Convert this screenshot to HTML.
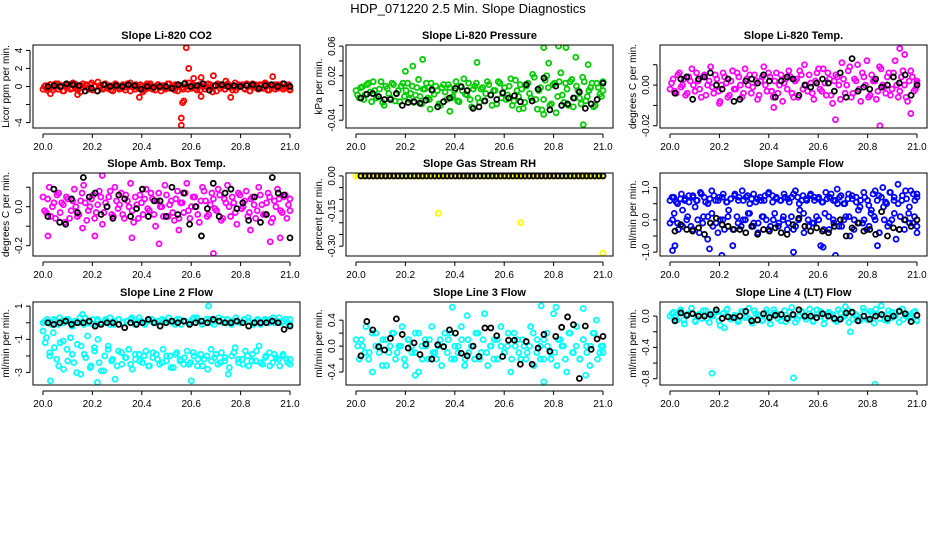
<!DOCTYPE html>
<html><head><meta charset="utf-8">
<style>
body{margin:0;background:#fff;}
svg{display:block;font-family:"Liberation Sans",sans-serif;}
</style></head>
<body>
<svg id="chart" width="936" height="540" viewBox="0 0 936 540">
<rect width="936" height="540" fill="#fff"/>
<text x="468" y="13" font-size="13" text-anchor="middle">HDP_071220  2.5 Min. Slope Diagnostics</text>
</svg>
<script>
// ---- data ----
const xTicks = [20.0, 20.2, 20.4, 20.6, 20.8, 21.0];
const xTickLabels = ["20.0","20.2","20.4","20.6","20.8","21.0"];

const p1Band = [-0.3,0.1,-0.2,0.2,-0.4,0.0,0.3,-0.1,-0.5,0.2,0.1,-0.3,0.4,-0.2,0.0,-0.6,0.3,0.1,-0.2,0.2,-0.4,0.0,0.5,-0.1,-0.3,0.2,-0.2,0.1,-0.5,0.3,0.0,-0.2,0.2,-0.4,0.1,0.4,-0.1,-0.3,0.0,0.2,-0.6,0.1,-0.2,0.3,0.0,-0.4,0.2,-0.1,0.1,-0.3,0.3,-0.2,0.0,0.2,-0.5,0.1,-0.1,0.4,-0.3,0.0,0.2,-0.2,0.1,-0.4,0.3,0.0,-0.1,0.2,-0.6,0.1,0.3,-0.2,0.0,-0.3,0.2,0.1,-0.4,0.4,-0.1,0.0,0.2,-0.3,0.1,-0.5,0.3,-0.1,0.0,0.2,-0.2,0.4,-0.4,0.1,0.0,-0.3,0.2,-0.1,0.3,-0.2,0.0,-0.3];
const p1Band2 = [0.0,-0.4,0.2,-0.1,0.3,-0.3,0.1,-0.5,0.0,0.2,-0.2,0.3,-0.4,0.1,-0.1,0.2,-0.3,0.4,0.0,-0.5,0.1,-0.2,0.3,0.0,-0.4,0.1,0.2,-0.3,0.0,-0.1,0.3,-0.5,0.1,0.2,-0.2,0.0,-0.4,0.3,0.1,-0.3,0.0,0.2,-0.5,0.1,-0.2,0.3,0.0,-0.4,0.2,0.1,-0.3,0.0,0.4,-0.2,0.1,-0.4,0.2,0.0,-0.3,0.3,-0.1,0.1,-0.5,0.2,0.0,-0.3,0.3,-0.1,0.0,-0.4,0.2,0.1,-0.2,0.3,-0.5,0.0,0.2,-0.3,0.1,-0.1,0.3,-0.4,0.0,0.2,-0.2,0.1,-0.3,0.0,0.2,-0.4];
const p1Black = [0,0.1,0,0.3,0.2,0.1,-0.5,-0.2,-0.5,0.2,0,0.1,0,0.2,0.1,-0.3,0,-0.1,0,0,-0.2,0.2,0.3,0,0.1,0.3,-0.4,0.1,0.2,0,0.1,0,0.1,0.2,-0.2,0.1,0.2,0,0.3,0];
const p1OutT = [20.56,20.56,20.565,20.57,20.58,20.59,20.61,20.64,20.69,20.93,20.76,20.39,20.64,20.74,20.03,20.14];
const p1OutV = [-4.3,-3.5,-1.8,-1.6,4.3,2.0,0.9,1.0,1.2,1.1,-1.2,-1.2,-1.1,0.6,-0.8,-0.9];

const p2Band = [0.0,-0.01,0.005,-0.005,0.01,-0.015,0.0,-0.008,0.012,-0.02,0.003,-0.01,0.008,-0.004,-0.015,0.01,0.0,-0.012,0.006,-0.006,0.015,-0.018,0.002,-0.01,0.01,-0.005,0.0,-0.02,0.008,-0.012,0.004,-0.008,0.012,-0.015,0.0,-0.005,0.01,-0.022,0.006,-0.01,0.002,-0.014,0.012,-0.006,0.0,-0.018,0.01,-0.004,-0.012,0.006,-0.02,0.014,-0.008,0.002,-0.016,0.01,-0.01,0.018,-0.025,0.004,-0.012,0.02,-0.02,0.008,-0.03,0.012,-0.006,0.01,-0.02,0.015,-0.01,0.0,-0.018,0.012,-0.008,0.004,-0.022,0.01,-0.005,0.0];
const p2Band2 = [-0.006,0.004,-0.012,0.008,-0.002,0.012,-0.01,0.002,-0.016,0.006,-0.004,0.01,-0.014,0.0,0.006,-0.008,0.01,-0.004,-0.016,0.004,-0.008,0.002,0.01,-0.012,0.0,0.006,-0.018,0.004,-0.002,0.008,-0.01,0.0,-0.014,0.006,0.016,-0.006,-0.012,0.002,0.01,-0.016,0.004,-0.004,0.008,-0.02,0.0,0.012,-0.01,0.004,-0.006,0.016,-0.014,0.0,0.008,-0.024,0.006,-0.004,0.022,-0.012,0.0,-0.026,0.014,0.004,-0.018,0.01,-0.008,0.024,-0.016,0.002,0.012,-0.022,0.006,-0.01,0.018,-0.014,0.0,0.01,-0.02,0.004,-0.008,0.012];
const p2Black = [-0.01,-0.005,-0.004,-0.008,-0.012,-0.012,-0.004,-0.02,-0.016,-0.015,-0.017,-0.013,0.001,-0.022,-0.015,-0.01,0.003,0.005,0.0,-0.024,-0.022,-0.014,-0.006,-0.012,-0.003,-0.01,-0.007,-0.015,0.008,-0.014,0.002,0.017,-0.026,0.006,-0.02,-0.018,-0.01,-0.002,-0.024,-0.018,-0.012,0.01];
const p2OutT = [20.23,20.27,20.2,20.49,20.76,20.82,20.85,20.89,20.78,20.94,20.66,20.92,20.76,20.3,20.38];
const p2OutV = [0.033,0.042,0.026,0.038,0.058,0.06,0.058,0.045,0.037,0.035,-0.025,-0.046,-0.032,-0.025,-0.028];

const p3Band = [-0.002,0.003,-0.004,0.006,0.0,-0.005,0.004,0.008,-0.003,0.002,-0.006,0.005,0.0,0.009,-0.004,0.003,-0.008,0.006,0.001,-0.005,0.007,-0.002,0.004,-0.006,0.008,0.0,-0.004,0.005,-0.007,0.002,0.009,-0.003,0.004,-0.006,0.006,0.0,-0.008,0.003,0.007,-0.004,0.002,-0.006,0.005,0.01,-0.003,0.001,-0.007,0.006,-0.002,0.008,-0.005,0.003,-0.009,0.005,0.0,0.011,-0.004,0.007,-0.006,0.003,0.01,-0.008,0.004,0.012,-0.005,0.002,-0.007,0.009,0.0,-0.004,0.006,-0.002,0.012,-0.006,0.004,0.0,-0.008,0.007,-0.003,0.002];
const p3Band2 = [0.001,-0.003,0.005,-0.001,0.003,-0.004,0.002,0.0,0.006,-0.002,0.004,-0.005,0.002,-0.001,0.005,-0.003,0.0,0.004,-0.006,0.002,-0.002,0.006,0.0,-0.004,0.003,0.005,-0.001,0.002,-0.005,0.004,0.0,0.006,-0.003,0.002,-0.004,0.005,0.001,-0.002,0.004,-0.006,0.003,0.007,-0.002,0.0,0.005,-0.004,0.002,0.008,-0.003,0.001,0.006,-0.005,0.002,0.004,-0.007,0.003,0.0,0.009,-0.004,0.002,-0.002,0.006,0.0,-0.006,0.005,0.002,-0.003,0.008,-0.001,0.004,-0.005,0.006,0.0,-0.003,0.007,-0.006,0.002,0.004,-0.002,0.001];
const p3Black = [-0.004,0.003,0.004,-0.007,0.003,0.004,0.006,0.0,-0.002,0.003,-0.008,-0.007,0.002,0.003,0.001,0.005,0.002,-0.006,0.002,0.004,0.003,-0.005,0.0,-0.001,0.001,0.003,0.001,-0.003,0.006,-0.006,0.013,-0.003,-0.001,-0.002,0.003,-0.001,0.0,0.004,0.001,0.005,-0.005,0.0];
const p3OutT = [20.85,20.67,20.93,20.975,20.95,20.42,20.2];
const p3OutV = [-0.02,-0.017,0.018,-0.014,0.015,-0.011,-0.009];

const p4Band = [0.05,-0.03,0.1,0.0,-0.06,0.07,0.02,-0.08,0.04,-0.02,0.09,-0.05,0.03,0.11,-0.07,0.0,0.06,-0.03,0.08,-0.09,0.02,0.05,-0.04,0.1,-0.01,0.07,-0.06,0.03,0.12,-0.08,0.01,0.06,-0.04,0.09,-0.02,0.04,-0.1,0.07,0.0,0.11,-0.05,0.03,-0.07,0.08,0.02,-0.03,0.12,-0.06,0.05,0.0,-0.08,0.1,0.03,-0.04,0.07,-0.01,0.09,-0.07,0.04,0.11,-0.05,0.02,-0.09,0.06,0.0,0.08,-0.03,0.05,-0.06,0.1,0.01,-0.04,0.07,-0.08,0.03,0.09,-0.02,0.05,-0.06,0.04];
const p4Band2 = [-0.02,0.04,-0.05,0.02,0.06,-0.03,0.01,0.05,-0.06,0.03,0.0,-0.04,0.07,0.02,-0.02,0.04,-0.06,0.01,0.05,-0.03,0.0,0.08,-0.05,0.03,0.01,-0.04,0.06,0.0,-0.02,0.05,-0.06,0.02,0.04,-0.01,0.07,-0.04,0.03,0.0,-0.05,0.06,0.01,-0.03,0.04,-0.06,0.02,0.07,-0.02,0.0,0.05,-0.04,0.03,0.08,-0.05,0.01,0.04,-0.02,0.06,-0.06,0.02,0.0,0.05,-0.03,0.07,-0.01,0.03,-0.05,0.04,0.01,-0.02,0.06,-0.04,0.02,0.05,-0.06,0.0,0.04,-0.03,0.06,0.01,-0.02];
const p4Black = [-0.05,0.09,-0.08,-0.09,0.04,-0.03,0.15,0.05,0.07,-0.04,0.0,-0.06,0.06,0.04,-0.05,-0.01,0.09,-0.05,0.03,0.03,-0.05,0.1,-0.04,0.07,-0.09,0.0,-0.15,-0.01,0.12,-0.05,0.07,0.09,-0.01,0.02,-0.07,0.05,-0.08,-0.04,0.15,0.07,0.06,-0.16];
const p4OutT = [20.02,20.21,20.24,20.36,20.47,20.69,20.92,20.96,20.16,20.55,20.84];
const p4OutV = [-0.15,-0.15,0.16,-0.16,-0.19,-0.24,-0.18,-0.16,-0.11,-0.12,-0.12];

const p5Band = [0,0,0,0,0,0,0,0,0,0,0,0,0,0,0,0,0,0,0,0,0,0,0,0,0,0,0,0,0,0,0,0,0,0,0,0,0,0,0,0,0,0,0,0,0,0,0,0,0,0,0,0,0,0,0,0,0,0,0,0,0,0,0,0,0,0,0,0,0,0,0,0,0,0,0,0,0,0,0,0,0,0,0,0,0,0,0,0,0,0];
const p5Black = [0,0,0,0,0,0,0,0,0,0,0,0,0,0,0,0,0,0,0,0,0,0,0,0,0,0,0,0,0,0,0,0,0,0,0,0,0,0,0,0,0,0,0,0,0,0,0,0,0,0,0,0,0,0,0,0,0,0,0,0];
const p5OutT = [20.333,20.667,21.0];
const p5OutV = [-0.16,-0.2,-0.33];

const p6BandHi = [0.6,0.7,0.5,0.8,0.65,0.55,0.75,0.6,0.85,0.7,0.5,0.9,0.6,0.7,0.8,0.55,0.65,0.75,0.6,0.9,0.7,0.5,0.8,0.65,0.6,0.75,0.85,0.55,0.7,0.6,0.8,0.65,0.7,0.9,0.5,0.75,0.6,0.8,0.7,0.65,0.55,0.85,0.7,0.6,0.95,0.75,0.5,0.8,0.65,0.7,0.4,0.85,0.6,0.3,0.9,0.75,1.0,0.5,0.85,0.7,1.1,0.6,0.9,0.4,0.8,0.7];
const p6BandHi2 = [0.7,0.55,0.65,0.6,0.75,0.7,0.6,0.8,0.55,0.65,0.75,0.6,0.7,0.55,0.65,0.8,0.7,0.6,0.75,0.65,0.55,0.7,0.6,0.8,0.75,0.65,0.6,0.7,0.55,0.8,0.7,0.6,0.65,0.75,0.6,0.7,0.55,0.65,0.8,0.6,0.7,0.5,0.65,0.75,0.55,0.6,0.7,0.45,0.8,0.6,0.7,0.55,0.85,0.6,0.5,0.75,0.65,0.9,0.6,0.8];
const p6BandLo = [-0.1,0.2,-0.3,0.3,0.0,-0.2,0.4,-0.4,0.1,-0.6,0.2,-0.1,0.0,-0.3,0.3,-0.8,0.1,-0.2,0.0,0.2,-0.1,-0.4,0.1,0.0,-0.2,0.2,-0.1,0.0,-0.3,0.1,-0.2,0.3,-0.4,0.0,-0.1,0.1,-0.8,0.2,-0.3,0.0,0.5,-0.2,0.1,-0.5,0.0,0.3,-0.1,-0.3,0.2,0.0,-0.4,0.4,-0.2,0.0,-0.6,0.1,-0.3,0.2,-0.1,-0.4];
const p6BandLo2 = [0.0,-0.1,-0.2,0.1,-0.3,0.0,-0.1,0.1,-0.2,-0.4,0.0,0.1,-0.3,-0.1,0.0,0.2,-0.2,-0.1,0.1,-0.3,0.0,-0.2,0.1,-0.1,-0.3,0.0,0.2,-0.2,-0.1,0.0,-0.3,0.1,-0.1,-0.2,0.0,0.1,-0.3,-0.1,0.0,-0.2,0.1,-0.4,0.0,-0.1,0.2,-0.3,0.0,-0.1,0.1,-0.2];
const p6Black = [-0.35,-0.15,-0.3,-0.35,-0.25,-0.45,-0.1,0.05,-0.15,-0.2,-0.3,-0.3,-0.4,-0.2,-0.45,-0.3,-0.35,-0.25,-0.4,-0.45,-0.15,0.05,-0.2,-0.35,-0.25,-0.35,-0.4,-0.2,0.0,-0.5,-0.25,-0.1,-0.35,-0.3,-0.45,0.25,-0.5,-0.25,-0.3,0.0,-0.2,0.0];
const p6OutT = [20.01,20.02,20.21,20.5,20.67,20.62,20.84,20.16];
const p6OutV = [-0.95,-0.8,-1.1,-1.0,-1.1,-0.85,-0.8,-0.9];

const p7BandHi = [0.0,0.2,-0.1,0.1,0.3,0.0,0.2,-0.2,0.1,0.0,0.3,0.1,-0.1,0.2,0.0,0.1,0.3,-0.1,0.2,0.0,0.1,0.2,-0.1,0.3,0.0,0.1,0.2,0.0,-0.2,0.1,0.3,0.0,0.2,-0.1,0.1,0.0,0.3,0.1,-0.1,0.2,0.0,0.1,0.3,0.0,0.2,-0.1,0.1,0.0,0.2,0.3,0.0,0.1,-0.1,0.2,0.0,0.3,0.1,0.0,0.2,-0.1];
const p7BandHi2 = [0.1,0.0,0.2,-0.1,0.1,0.2,0.0,0.1,0.3,-0.1,0.0,0.2,0.1,0.0,0.2,-0.1,0.1,0.2,0.0,0.1,0.3,0.0,0.1,-0.1,0.2,0.0,0.1,0.2,0.0,0.1,-0.1,0.2,0.1,0.0,0.2,0.3,0.1,0.0,0.2,-0.1,0.1,0.2,0.0,0.1,0.3,0.0,0.2,0.1,-0.1,0.2,0.0,0.1,0.2,0.0,0.3,0.1,0.0,0.2];
const p7BandLo = [-0.5,-0.9,-1.8,-0.6,-2.2,-1.2,-2.8,-1.6,-0.9,-2.4,-1.3,-3.1,-1.9,-0.8,-2.6,-1.5,-1.0,-2.9,-2.0,-1.4,-2.3,-3.4,-1.7,-2.5,-2.1,-1.6,-2.8,-2.2,-1.9,-2.4,-1.7,-2.6,-2.1,-1.9,-2.5,-1.6,-2.3,-2.0,-2.7,-1.8,-2.2,-2.5,-1.7,-2.4,-2.0,-2.6,-1.9,-2.2,-2.8,-1.6,-2.1,-2.5,-1.8,-2.3,-3.1,-2.0,-1.5,-2.4,-2.2,-1.7,-2.6,-1.9,-2.3,-1.4,-2.5,-2.0,-1.8,-2.4,-2.1,-2.6,-1.9,-2.2,-2.5];
const p7BandLo2 = [-1.2,-2.0,-1.5,-2.6,-1.1,-2.3,-1.9,-3.0,-1.4,-2.1,-2.7,-1.7,-2.4,-2.9,-1.6,-2.2,-2.6,-1.8,-2.1,-2.5,-1.9,-2.3,-2.0,-2.6,-1.8,-2.2,-2.4,-2.0,-2.7,-1.9,-2.3,-2.1,-2.5,-1.8,-2.2,-2.6,-2.0,-2.3,-1.9,-2.4,-2.1,-2.7,-1.8,-2.2,-2.5,-2.0,-2.3,-1.7,-2.4,-2.1,-2.6,-1.9,-2.2,-2.0,-2.4,-2.2];
const p7Black = [0.0,-0.1,0.0,0.1,-0.1,0.0,0.0,0.1,-0.2,-0.1,0.0,0.0,-0.1,-0.3,0.0,-0.1,0.0,0.2,0.0,-0.2,0.0,0.1,0.0,0.1,-0.1,0.0,0.1,0.0,0.2,0.1,0.0,0.0,0.1,0.0,-0.2,0.0,0.0,0.0,0.1,0.0,-0.4,-0.2];
const p7OutT = [20.67,20.16,20.6,20.22,20.03];
const p7OutV = [1.0,0.5,-3.5,-3.6,-3.5];

const p8Band = [0.1,-0.2,0.0,0.3,-0.1,-0.4,0.2,0.0,-0.3,0.1,-0.1,0.2,-0.2,0.0,0.3,-0.3,0.1,-0.1,0.2,-0.4,0.0,0.1,-0.2,0.3,-0.1,0.0,-0.3,0.2,0.1,-0.2,0.0,-0.1,0.3,-0.3,0.1,0.0,-0.2,0.2,-0.1,0.5,-0.3,0.0,0.1,-0.2,0.3,-0.1,0.0,-0.4,0.2,0.1,-0.2,0.0,-0.1,0.3,-0.3,0.1,0.0,-0.2,0.2,-0.1,0.5,-0.3,0.1,0.0,-0.4,0.2,-0.1,0.3,-0.2,0.1,0.0,-0.3,0.2,0.4,-0.1,0.0];
const p8Band2 = [0.0,0.1,-0.1,-0.2,0.2,0.0,-0.1,0.1,-0.3,0.0,0.2,-0.1,0.0,-0.2,0.1,0.0,-0.1,0.2,-0.2,0.0,0.1,-0.1,-0.2,0.1,0.0,-0.1,0.2,-0.2,0.0,0.1,-0.2,-0.1,0.0,0.2,-0.2,0.1,-0.1,0.0,-0.2,0.1,0.0,-0.1,0.2,-0.2,0.0,-0.1,0.1,-0.2,0.0,0.2,-0.1,-0.2,0.1,0.0,-0.2,-0.1,0.1,0.0,-0.2,0.2,-0.1,0.0,-0.2,0.1,-0.1,0.0,0.2,-0.2,0.0,-0.1];
const p8Black = [-0.15,0.38,0.25,-0.01,-0.06,0.12,0.42,0.18,-0.03,0.05,-0.13,0.03,-0.2,0.02,-0.01,0.25,0.2,-0.11,-0.15,0.0,-0.16,0.28,0.28,0.16,-0.16,0.09,0.09,-0.28,0.07,-0.28,-0.03,0.18,-0.08,0.15,0.29,0.45,0.33,-0.5,0.31,-0.05,0.11,0.15];
const p8OutT = [20.39,20.75,20.81,20.24,20.92,20.76,20.93,20.45];
const p8OutV = [0.6,0.62,0.6,-0.45,0.58,-0.55,-0.45,0.47];

const p9Band = [0.0,0.05,-0.05,0.08,-0.1,0.03,0.1,-0.06,0.02,-0.03,0.07,-0.08,0.0,0.05,-0.12,0.04,0.09,-0.04,0.01,-0.07,0.06,-0.02,0.1,-0.09,0.03,0.0,-0.05,0.08,-0.1,0.04,0.02,-0.06,0.07,-0.03,0.11,-0.08,0.0,0.05,-0.04,0.09,-0.07,0.02,0.06,-0.1,0.03,0.0,-0.05,0.08,-0.02,0.12,-0.08,0.04,0.0,-0.06,0.1,-0.04,0.06,-0.09,0.02,0.13,-0.05,0.07,-0.02,0.04,-0.08,0.09,0.0,-0.03,0.05,-0.06];
const p9Band2 = [0.03,-0.02,0.06,-0.05,0.01,0.04,-0.07,0.02,0.07,-0.03,0.0,0.05,-0.06,0.03,0.08,-0.02,0.01,-0.05,0.06,0.0,-0.04,0.07,0.02,-0.06,0.04,0.0,0.08,-0.03,0.02,-0.07,0.05,0.01,-0.04,0.06,-0.01,0.03,-0.06,0.08,0.0,-0.03,0.05,0.02,-0.07,0.04,0.0,0.07,-0.04,0.02,-0.02,0.06,-0.05,0.03,0.09,-0.03,0.01,-0.06,0.05,0.0,0.07,-0.04,0.02,-0.01,0.06,-0.05];
const p9Black = [-0.06,0.04,0.01,0.03,0.0,0.0,0.02,0.08,-0.03,-0.01,-0.02,0.0,0.06,-0.06,-0.05,0.03,-0.02,0.01,0.02,-0.03,0.02,0.08,0.0,0.0,-0.02,0.03,0.0,-0.03,-0.04,0.04,0.05,-0.06,0.0,-0.04,0.0,0.02,-0.03,0.0,0.06,0.03,-0.07,0.01];
const p9OutT = [20.17,20.5,20.83,20.22,20.73];
const p9OutV = [-0.73,-0.79,-0.87,-0.15,-0.2];

// ---- layout ----
const svg = document.getElementById('chart');
const NS = 'http://www.w3.org/2000/svg';
function mk(tag, attrs, parent){const e=document.createElementNS(NS,tag);for(const k in attrs)e.setAttribute(k,attrs[k]);(parent||svg).appendChild(e);return e;}

const colsX = [33, 346, 660];
const rowsY = [45, 173, 302];
const boxW = 267, boxH = 83;

const panels = [
 {name:'co2',title:'Slope Li-820 CO2',ylab:'Licor ppm per min.',col:'#ff0000',ymin:-4.6,ymax:4.6,yt:[-4,-2,0,2,4],yl:['-4','','0','2','4'],bands:[p1Band,p1Band2],black:p1Black,ot:p1OutT,ov:p1OutV},
 {name:'pressure',title:'Slope Li-820 Pressure',ylab:'kPa per min.',col:'#00cc00',ymin:-0.0505,ymax:0.0615,yt:[-0.04,-0.02,0,0.02,0.04,0.06],yl:['-0.04','','','0.02','','0.06'],bands:[p2Band,p2Band2],black:p2Black,ot:p2OutT,ov:p2OutV},
 {name:'li820-temp',title:'Slope Li-820 Temp.',ylab:'degrees C per min.',col:'#ff00ff',ymin:-0.0211,ymax:0.0197,yt:[-0.02,-0.01,0,0.01],yl:['-0.02','','0.00',''],bands:[p3Band,p3Band2],black:p3Black,ot:p3OutT,ov:p3OutV},
 {name:'amb-box-temp',title:'Slope Amb. Box Temp.',ylab:'degrees C per min.',col:'#ff00ff',ymin:-0.253,ymax:0.173,yt:[-0.2,-0.1,0,0.1],yl:['-0.2','','0.0',''],bands:[p4Band,p4Band2],black:p4Black,ot:p4OutT,ov:p4OutV},
 {name:'gas-stream-rh',title:'Slope Gas Stream RH',ylab:'percent per min.',col:'#ffff00',ymin:-0.342,ymax:0.0125,yt:[0,-0.05,-0.1,-0.15,-0.2,-0.25,-0.3],yl:['0.00','','','-0.15','','','-0.30'],bands:[p5Band],black:p5Black,ot:p5OutT,ov:p5OutV},
 {name:'sample-flow',title:'Slope Sample Flow',ylab:'ml/min per min.',col:'#0000ff',ymin:-1.12,ymax:1.45,yt:[-1,-0.5,0,0.5,1],yl:['-1.0','','0.0','','1.0'],bands:[p6BandHi,p6BandHi2,p6BandLo,p6BandLo2],black:p6Black,ot:p6OutT,ov:p6OutV},
 {name:'line2-flow',title:'Slope Line 2 Flow',ylab:'ml/min per min.',col:'#00ffff',ymin:-3.75,ymax:1.25,yt:[-3,-2,-1,0,1],yl:['-3','','-1','','1'],bands:[p7BandHi,p7BandHi2,p7BandLo,p7BandLo2],black:p7Black,ot:p7OutT,ov:p7OutV},
 {name:'line3-flow',title:'Slope Line 3 Flow',ylab:'ml/min per min.',col:'#00ffff',ymin:-0.6,ymax:0.68,yt:[-0.4,-0.2,0,0.2,0.4],yl:['-0.4','','0.0','','0.4'],bands:[p8Band,p8Band2],black:p8Black,ot:p8OutT,ov:p8OutV},
 {name:'line4-flow',title:'Slope Line 4 (LT) Flow',ylab:'ml/min per min.',col:'#00ffff',ymin:-0.88,ymax:0.18,yt:[-0.8,-0.6,-0.4,-0.2,0],yl:['-0.8','','-0.4','','0.0'],bands:[p9Band,p9Band2],black:p9Black,ot:p9OutT,ov:p9OutV}
];

panels.forEach((p,idx)=>{
  const bx = colsX[idx%3], by = rowsY[Math.floor(idx/3)];
  const g = mk('g',{});
  
  
  const xs = t => bx+10 + (t-20)*(boxW-20);
  const ys = v => by + boxH - (v-p.ymin)/(p.ymax-p.ymin)*boxH;
  const clip = 'clip'+idx;
  const cp = mk('clipPath',{id:clip},g); mk('rect',{x:bx,y:by,width:boxW,height:boxH},cp);
  const pts = mk('g',{'clip-path':'url(#'+clip+')',fill:'none','stroke-width':1.8},g);
  
  
  p.bands.forEach((arr,bi)=>{
    const off = (bi%2===1) ? 0.5/(arr.length-1) : 0;
    arr.forEach((v,i)=>{
      const t = Math.min(21, 20+off+i/(arr.length-1));
      const c = mk('circle',{cx:xs(t),cy:ys(v),r:2.5,stroke:p.col},pts);
      
      
    });
  });
  p.ot.forEach((t,i)=>{
    const c = mk('circle',{cx:xs(t),cy:ys(p.ov[i]),r:2.5,stroke:p.col},pts);
    
    
  });
  p.black.forEach((v,i)=>{
    const c = mk('circle',{cx:xs(20.02+i*0.98/(p.black.length-1)),cy:ys(v),r:2.5,stroke:'#000'},pts);
    
    
  });
  const box = mk('rect',{x:bx,y:by,width:boxW,height:boxH,fill:'none',stroke:'#000','stroke-width':1},g);
  
  
  const ttl = mk('text',{x:bx+boxW/2,y:by-6,'font-size':11,'font-weight':'bold','text-anchor':'middle'},g);
  ttl.textContent = p.title;
  
  
  mk('line',{x1:xs(20),x2:xs(21),y1:by+boxH+6,y2:by+boxH+6,stroke:'#000'},g);
  xTicks.forEach((t,i)=>{
    mk('line',{x1:xs(t),x2:xs(t),y1:by+boxH+6,y2:by+boxH+10,stroke:'#000'},g);
    const tl = mk('text',{x:xs(t),y:by+boxH+22,'font-size':10,'text-anchor':'middle'},g);
    tl.textContent = xTickLabels[i];
    
    
  });
  const ymn = Math.min(...p.yt), ymx = Math.max(...p.yt);
  mk('line',{x1:bx-3,x2:bx-3,y1:ys(ymn),y2:ys(ymx),stroke:'#000'},g);
  p.yt.forEach((v,i)=>{
    mk('line',{x1:bx-7,x2:bx-3,y1:ys(v),y2:ys(v),stroke:'#000'},g);
    if(p.yl[i]){
      const yy = ys(v);
      const tl = mk('text',{x:bx-11,y:yy,'font-size':10,'text-anchor':'middle',transform:'rotate(-90 '+(bx-11)+' '+yy+')'},g);
      tl.textContent = p.yl[i];
      
      
    }
  });
  const yc = by+boxH/2;
  const yt = mk('text',{x:bx-24,y:yc,'font-size':10,'text-anchor':'middle',transform:'rotate(-90 '+(bx-24)+' '+yc+')'},g);
  yt.textContent = p.ylab;
  
  
});
</script>
</body></html>
